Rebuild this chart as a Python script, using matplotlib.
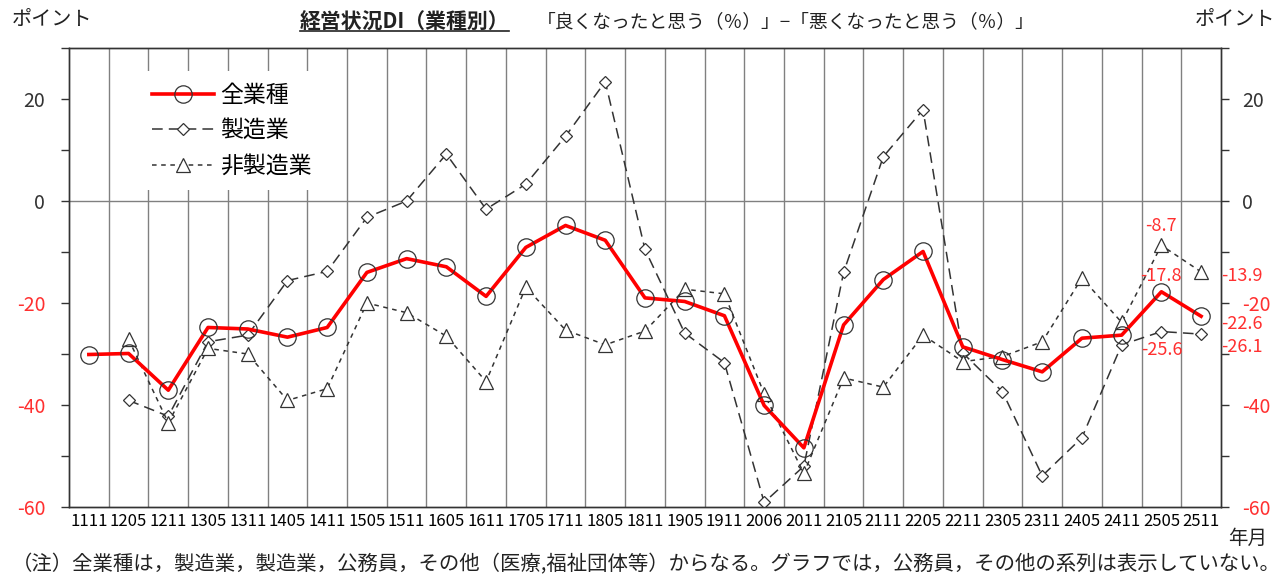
import matplotlib
matplotlib.use("Agg")
import matplotlib.pyplot as plt
from matplotlib.lines import Line2D
from matplotlib.ticker import MultipleLocator, FixedLocator
import numpy as np

plt.rcParams['font.family'] = ['Noto Sans CJK JP', 'DejaVu Sans']
plt.rcParams['axes.unicode_minus'] = False

# 年月ラベル
periods = ['1111', '1205', '1211', '1305', '1311', '1405', '1411', '1505', '1511', '1605',
           '1611', '1705', '1711', '1805', '1811', '1905', '1911', '2006', '2011', '2105',
           '2111', '2205', '2211', '2305', '2311', '2405', '2411', '2505', '2511']

# 全業種
all_ind = [-30.1, -29.9, -37.1, -24.8, -25.1, -26.7, -24.8, -14.0, -11.3, -12.9,
           -18.7, -9.1, -4.8, -7.7, -19.0, -19.7, -22.5, -40.1, -48.4, -24.3,
           -15.4, -9.9, -28.6, -31.1, -33.5, -26.9, -26.3, -17.8, -22.6]

# 製造業 (1205から)
manuf = [np.nan, -39.1, -42.2, -27.6, -26.3, -15.6, -13.8, -3.2, 0.0, 9.2,
         -1.6, 3.3, 12.7, 23.4, -9.5, -25.9, -31.7, -59.1, -52.0, -14.0,
         8.7, 17.9, -29.8, -37.4, -53.9, -46.4, -28.2, -25.6, -26.1]

# 非製造業 (1205から)
nonmanuf = [np.nan, -27.1, -43.5, -28.9, -30.0, -39.1, -36.8, -20.0, -21.9, -26.5,
            -35.4, -16.9, -25.3, -28.2, -25.5, -17.3, -18.2, -37.8, -53.4, -34.7,
            -36.5, -26.3, -31.5, -30.5, -27.6, -15.1, -23.8, -8.7, -13.9]

series_names = ['全業種', '製造業', '非製造業']
yticks = [-60, -40, -20, 0, 20]
x = np.arange(len(periods))

red = '#ff3030'
dark = '#333333'

fig = plt.figure(figsize=(12.87, 5.82), dpi=100)
ax = fig.add_axes([0.0536, 0.1289, 0.8951, 0.7886])

# 区切りの縦線とゼロの横線
for b in np.arange(0.5, len(periods) - 1, 1.0):
    ax.axvline(b, color='#808080', lw=1.0, zorder=0)
ax.axhline(0, color='#808080', lw=1.0, zorder=0)

ax.plot(x, manuf, color=dark, lw=1.1, linestyle=(0, (7, 4)),
        marker='D', markersize=6.5, markerfacecolor='white', markeredgecolor=dark,
        markeredgewidth=0.9, label=series_names[1], zorder=3)
ax.plot(x, nonmanuf, color=dark, lw=1.1, linestyle=(0, (3, 3)),
        marker='^', markersize=10, markerfacecolor='white', markeredgecolor=dark,
        markeredgewidth=0.9, label=series_names[2], zorder=3)
ax.plot(x, all_ind, color='red', lw=2.6, marker='o', markersize=12.5,
        markerfacecolor='none', markeredgecolor=dark, markeredgewidth=0.9,
        label=series_names[0], zorder=4)

ax.set_xlim(-0.5, len(periods) - 0.5)
ax.set_ylim(-60, 30)

ax.set_xticks(x)
ax.set_xticklabels(periods, fontsize=12)
ax.tick_params(axis='x', length=0, pad=4)

# 左右の目盛
ax2 = ax.twinx()
ax2.set_ylim(ax.get_ylim())
for a, side_pad in [(ax, 11), (ax2, 9)]:
    a.yaxis.set_major_locator(FixedLocator(yticks))
    a.yaxis.set_minor_locator(MultipleLocator(10))
    a.set_yticklabels([str(v) for v in yticks])
    a.tick_params(axis='y', which='both', direction='out', length=6, width=1,
                  labelsize=14, color=dark)
    a.tick_params(axis='y', which='major', pad=side_pad)
    for lab, v in zip(a.get_yticklabels(), yticks):
        lab.set_color(red if v < 0 else dark)
    for s in a.spines.values():
        s.set_color(dark)
        s.set_linewidth(1.0)

# 凡例
handles, labels = ax.get_legend_handles_labels()
order = [2, 0, 1]
leg = ax.legend([handles[i] for i in order], [labels[i] for i in order],
                loc='upper left', bbox_to_anchor=(0.051, 0.975), fontsize=16.5,
                handlelength=2.7, handletextpad=0.3, labelspacing=0.55,
                frameon=True, fancybox=False, borderpad=0.55)
leg.get_frame().set_facecolor('white')
leg.get_frame().set_edgecolor('none')
leg.get_frame().set_alpha(1.0)
leg.set_zorder(5)

# 直近の値
last = len(periods) - 1
prev = len(periods) - 2
for val, dy in [(nonmanuf[prev], 14), (all_ind[prev], 11), (manuf[prev], -13)]:
    ax.annotate(f'{val:.1f}', xy=(x[prev], val), xytext=(0, dy),
                textcoords='offset points', ha='center', va='center',
                color=red, fontsize=13)
for val, dy in [(nonmanuf[last], -3), (all_ind[last], -5.5), (manuf[last], -9)]:
    ax.annotate(f'{val:.1f}', xy=(1.0, val), xycoords=('axes fraction', 'data'),
                xytext=(0, dy), textcoords='offset points', ha='left', va='center',
                color=red, fontsize=13)

# タイトル等
title = fig.text(0.233, 0.962, '経営状況DI（業種別）', fontsize=15, fontweight='bold',
                 ha='left', va='center', color='#222222')
fig.text(0.417, 0.962, '「良くなったと思う（％）」−「悪くなったと思う（％）」', fontsize=13.5,
         ha='left', va='center', color='#222222')
fig.text(0.009, 0.966, 'ポイント', fontsize=14.5, ha='left', va='center', color='#222222')
fig.text(0.991, 0.966, 'ポイント', fontsize=14.5, ha='right', va='center', color='#222222')
fig.text(0.954, 0.075, '年月', fontsize=14, ha='left', va='center', color='#222222')
fig.text(0.009, 0.029,
         '（注）全業種は，製造業，製造業，公務員，その他（医療,福祉団体等）からなる。グラフでは，公務員，その他の系列は表示していない。',
         fontsize=14.7, ha='left', va='center', color='#222222')

fig.canvas.draw()
bb = title.get_window_extent().transformed(fig.transFigure.inverted())
fig.add_artist(Line2D([bb.x0, bb.x1], [bb.y0 + 0.002, bb.y0 + 0.002],
                      transform=fig.transFigure, color='#222222', lw=1.2))

fig.savefig('out.png', dpi=100)
